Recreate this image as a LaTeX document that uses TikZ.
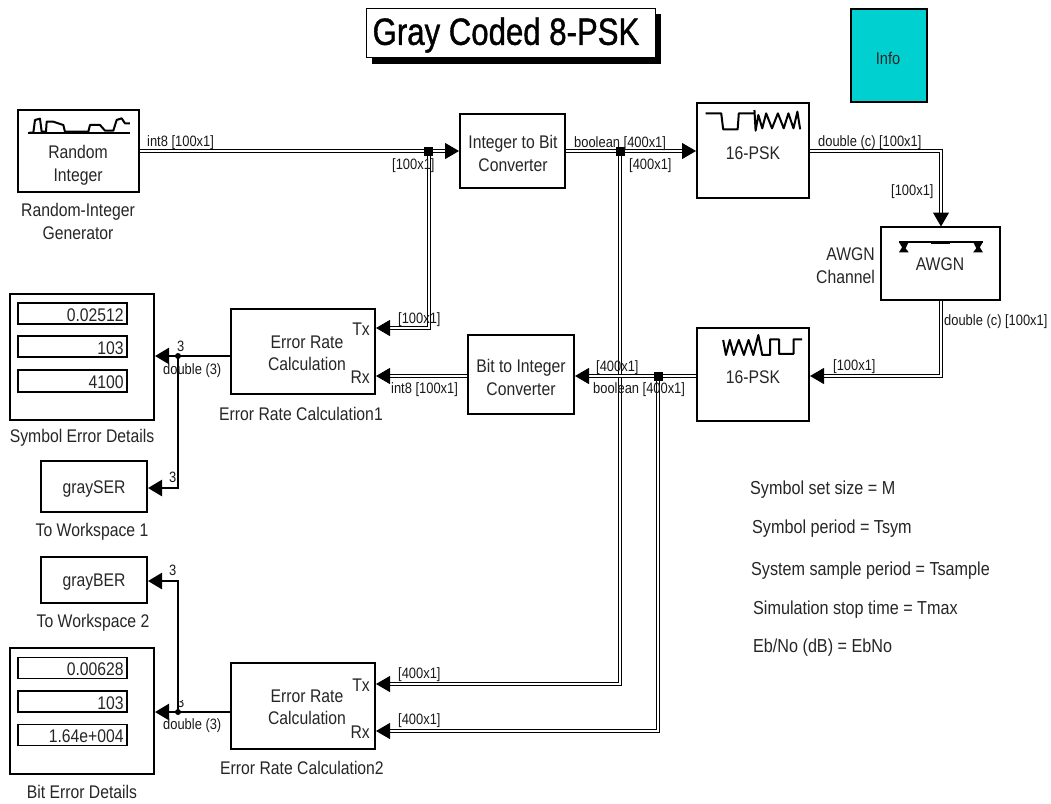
\documentclass[tikz,border=0pt]{standalone}
\usepackage{fontspec}
\setmainfont[FakeStretch=0.86]{Liberation Sans}
\newfontfamily\titlefont[FakeStretch=0.82,FakeBold=1]{Liberation Sans}
\usetikzlibrary{arrows.meta,calc}
\definecolor{infocyan}{RGB}{0,208,208}
\tikzset{
  block/.style={draw=black,line width=2pt,fill=white,inner sep=0pt,rectangle},
  disp/.style={draw=black,line width=1.8pt,fill=white,inner sep=0pt,rectangle},
  big/.style={inner sep=0pt,yshift=-1.5pt,font=\fontsize{18.3}{22.5}\selectfont,align=center,text=black!85},
  para/.style={inner sep=0pt,yshift=-2pt,font=\fontsize{18.8}{22.5}\selectfont,anchor=west,text=black!85},
  sml/.style={inner sep=0pt,yshift=-1.5pt,font=\fontsize{15}{17}\selectfont,anchor=west,text height=10pt,text depth=3pt,text=black!90},
  bus/.style={draw=black,line width=1pt,double=white,double distance=2pt,
    -{Triangle[length=14pt,width=16pt]}},
  sig/.style={draw=black,line width=2.5pt,-{Triangle[length=14pt,width=16pt]}},
  junc/.style={fill=black,inner sep=0pt,minimum size=9pt,rectangle},
  jdot/.style={fill=black,inner sep=0pt,minimum size=6pt,circle},
  icon/.style={draw=black,line width=2pt,line join=round},
}
\begin{document}
\begin{tikzpicture}[x=1pt,y=-1pt]
\useasboundingbox (0,0) rectangle (1051,803);
\fill[white] (0,0) rectangle (1051,803);

% title and info
\fill[black] (372,14) rectangle (661,64);
\node[draw=black,line width=1pt,fill=white,inner sep=0pt,minimum width=289pt,minimum height=49pt] (title) at (510.5,32.5) {};
\node[inner sep=0pt,font=\titlefont\fontsize{38}{42}\selectfont] (titleT) at (506,35) {Gray Coded 8-PSK};
\node[draw=black,line width=2pt,fill=infocyan,inner sep=0pt,minimum width=76pt,minimum height=93pt] (info) at (889,55.5) {};
\node[big,font=\fontsize{17}{18}\selectfont] (infoT) at (888,57) {Info};

% blocks
\node[block,minimum width=121pt,minimum height=82pt] (ric) at (78.5,151) {};
\node[block,minimum width=105pt,minimum height=74pt] (i2b) at (512.5,151) {};
\node[block,minimum width=112pt,minimum height=95pt] (pska) at (753,150.5) {};
\node[block,minimum width=119pt,minimum height=73pt] (awgn) at (940.5,263.5) {};
\node[block,minimum width=112pt,minimum height=93pt] (pskb) at (753,374.5) {};
\node[block,minimum width=106pt,minimum height=79pt] (b2i) at (521,374.5) {};
\node[block,minimum width=144pt,minimum height=85pt] (erra) at (303,351.5) {};
\node[block,minimum width=144pt,minimum height=86pt] (errb) at (303,706) {};
\node[block,minimum width=144pt,minimum height=126pt] (sed) at (82,357) {};
\node[block,minimum width=144pt,minimum height=126pt] (bed) at (82,711) {};
\node[block,minimum width=106pt,minimum height=51pt] (wsa) at (94,486.5) {};
\node[block,minimum width=106pt,minimum height=46pt] (wsb) at (94,580) {};

% displays
\node[disp,minimum width=109pt,minimum height=21pt] (d1) at (72.5,313.5) {};
\node[disp,minimum width=109pt,minimum height=21pt] (d2) at (72.5,346.5) {};
\node[disp,minimum width=109pt,minimum height=22pt] (d3) at (72.5,381) {};
\node[disp,minimum width=109pt,minimum height=21pt] (d4) at (72.5,668) {};
\node[disp,minimum width=109pt,minimum height=21pt] (d5) at (72.5,701.5) {};
\node[disp,minimum width=109pt,minimum height=21pt] (d6) at (72.5,735) {};
\foreach \n/\v in {d1/0.02512,d2/103,d3/4100,d4/0.00628,d5/103,d6/1.64e+004}
  \node[big,anchor=east] (\n T) at ($(\n.east)+(-4,0)$) {\v};

% block texts
\node[big] (ricT) at (78,164) {Random\\Integer};
\node[big] (ricC) at (78,220) {Random-Integer\\Generator};
\node[big] (i2bT) at (513,152) {Integer to Bit\\Converter};
\node[big] (pskaT) at (753,152) {16-PSK};
\node[big] (awgnT) at (940,263) {AWGN};
\node[big,align=right,anchor=east] (awgnC) at (875,264) {AWGN\\Channel};
\node[big] (pskbT) at (753,376) {16-PSK};
\node[big] (b2iT) at (521,376) {Bit to Integer\\Converter};
\node[big] (erraT) at (307,352) {Error Rate\\Calculation};
\node[big,anchor=east] (erraTx) at (370,328) {Tx};
\node[big,anchor=east] (erraRx) at (370,376) {Rx};
\node[big] (erraC) at (301,412) {Error Rate Calculation1};
\node[big] (errbT) at (307,706) {Error Rate\\Calculation};
\node[big,anchor=east] (errbTx) at (370,684) {Tx};
\node[big,anchor=east] (errbRx) at (370,731) {Rx};
\node[big] (errbC) at (302,766) {Error Rate Calculation2};
\node[big] (sedC) at (82,436) {Symbol Error Details};
\node[big] (bedC) at (82,790) {Bit Error Details};
\node[big] (wsaT) at (94,488) {graySER};
\node[big] (wsaC) at (92,530) {To Workspace 1};
\node[big] (wsbT) at (94,581) {grayBER};
\node[big] (wsbC) at (93,621) {To Workspace 2};

% parameter texts
\node[para] (p1) at (750,488) {Symbol set size = M};
\node[para] (p2) at (752,527) {Symbol period = Tsym};
\node[para] (p3) at (751,569) {System sample period = Tsample};
\node[para] (p4) at (753,608) {Simulation stop time = Tmax};
\node[para] (p5) at (753,646) {Eb/No (dB) = EbNo};

% partly hidden width label
\begin{scope}
\clip (179,700) rectangle (190,712);
\node[sml] (hid) at (177,702) {3};
\end{scope}

% junctions and port positions
\node[junc] (j1) at (428.5,151) {};
\node[junc] (j2) at (620,151) {};
\node[junc] (j3) at (658,376) {};
\node[jdot] (j4) at (178,356) {};
\node[jdot] (j5) at (178,712) {};
\coordinate (erraTxP) at (erra.east |- 0,328);
\coordinate (erraRxP) at (erra.east |- 0,376);
\coordinate (errbTxP) at (errb.east |- 0,684);
\coordinate (errbRxP) at (errb.east |- 0,731);
\coordinate (pskbIn) at (pskb.east |- 0,376);
\coordinate (pskbOut) at (pskb.west |- 0,376);
\coordinate (b2iIn) at (b2i.east |- 0,376);
\coordinate (b2iOut) at (b2i.west |- 0,376);
\coordinate (erraOut) at (erra.west |- 0,356);
\coordinate (sedIn) at (sed.east |- 0,356);
\coordinate (errbOut) at (errb.west |- 0,712);
\coordinate (bedIn) at (bed.east |- 0,712);
\coordinate (wsaIn) at (wsa.east |- 0,488);
\coordinate (wsbIn) at (wsb.east |- 0,581);
\coordinate (awgnTop) at (941,226.5);
\coordinate (awgnBot) at (941,300.5);

% bus connectors
\draw[bus] (ric.east) -- (i2b.west);
\draw[bus] (j1.center) |- (erraTxP);
\draw[bus] (i2b.east) -- (pska.west |- i2b.east);
\draw[bus] (j2.center) |- (errbTxP);
\draw[bus] (pska.east |- 0,151) -| (awgnTop);
\draw[bus] (awgnBot) |- (pskbIn);
\draw[bus] (pskbOut) -- (b2iIn);
\draw[bus] (j3.center) |- (errbRxP);
\draw[bus] (b2iOut) -- (erraRxP);
\node[junc] (j1b) at (j1) {};
\node[junc] (j2b) at (j2) {};
\node[junc] (j3b) at (j3) {};

% scalar connectors
\draw[sig] (erraOut) -- (sedIn);
\draw[sig] (j4.center) |- (wsaIn);
\draw[sig] (errbOut) -- (bedIn);
\draw[sig] (j5.center) |- (wsbIn);

% signal labels
\node[sml] (l1) at (147,141) {int8 [100x1]};
\node[sml] (l2) at (392,164) {[100x1]};
\node[sml] (l3) at (398,318) {[100x1]};
\node[sml] (l4) at (391,388) {int8 [100x1]};
\node[sml] (l5) at (177,346) {3};
\node[sml] (l6) at (163,369) {double (3)};
\node[sml] (l7) at (169,477) {3};
\node[sml] (l8) at (169,570) {3};
\node[sml] (l9) at (163,724) {double (3)};
\node[sml] (l10) at (574,142) {boolean [400x1]};
\node[sml] (l11) at (629,164) {[400x1]};
\node[sml] (l12) at (818,141) {double (c) [100x1]};
\node[sml] (l13) at (891,190) {[100x1]};
\node[sml] (l14) at (944,320) {double (c) [100x1]};
\node[sml] (l15) at (833,365) {[100x1]};
\node[sml] (l16) at (596,366) {[400x1]};
\node[sml] (l17) at (593,388) {boolean [400x1]};
\node[sml] (l18) at (398,673) {[400x1]};
\node[sml] (l19) at (398,719) {[400x1]};

% block icons
\begin{scope}[shift={(0,90)},x=0.3333pt,y=-0.3333pt]
\draw[icon] (85,130) -- (390,130);
\draw[icon] (88,128) -- (100,128) -- (105,90) -- (120,86) -- (125,125) -- (138,125) -- (140,95) -- (160,95) -- (190,105) -- (195,125) -- (265,125) -- (270,105) -- (300,105) -- (315,122) -- (340,122) -- (350,90) -- (365,85) -- (375,100) -- (390,100);
\end{scope}
\begin{scope}[shift={(440,90)},x=0.3906pt,y=-0.3333pt]
\draw[icon] (680,70) -- (720,70) -- (725,118) -- (762,118) -- (765,70) -- (805,70);
\draw[icon] (805,60) -- (808,122) -- (815,75) -- (825,115) -- (835,70) -- (850,115) -- (865,70) -- (880,115) -- (892,70) -- (905,115) -- (915,65) -- (922,118);
\draw[icon] (725,750) -- (732,795) -- (742,750) -- (752,795) -- (765,750) -- (778,795) -- (790,750) -- (802,795) -- (815,735) -- (825,795) -- (845,795) -- (845,748) -- (868,748) -- (868,792) -- (905,792) -- (905,748) -- (927,748);
\draw[icon] (1175,456) -- (1390,456);
\draw[line width=3pt] (1258,459) -- (1305,459);
\fill (1175,456) -- (1200,456) -- (1192,475) -- (1200,487) -- (1175,487) -- (1183,472) -- cycle;
\fill (1390,456) -- (1365,456) -- (1373,475) -- (1365,487) -- (1390,487) -- (1382,472) -- cycle;
\end{scope}
\end{tikzpicture}
\end{document}
